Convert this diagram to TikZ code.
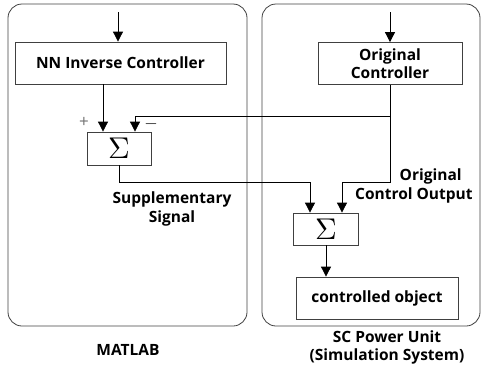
\documentclass[tikz,border=0pt]{standalone}
\usepackage{fontspec}
\setmainfont{Open Sans}
\usetikzlibrary{arrows.meta,positioning}

\newcommand{\bigsum}{\scalebox{3}{$\Sigma$}}

\begin{document}
\begin{tikzpicture}[
  x=1pt, y=-1pt, line width=0.8pt,
  panel/.style={draw=black!75, rounded corners=14pt},
  box/.style={draw=black!75, align=center, inner sep=0pt, font=\bfseries\fontsize{15.5}{18}\selectfont},
  sumbox/.style={draw=black!75, inner sep=0pt},
  lbl/.style={align=center, font=\bfseries\fontsize{15.5}{19}\selectfont},
  sgn/.style={font=\fontsize{17}{17}\selectfont},
  arr/.style={-{Triangle[length=10pt,width=10pt]}}
]
\useasboundingbox (0,0) rectangle (481,370);
% the two panels
\draw[panel] (8,4) rectangle (247,326);
\draw[panel] (262,4) rectangle (480,326);

\node[box, minimum width=211pt, minimum height=42pt] (nnc) at (120.5,63) {NN Inverse Controller};
\node[sumbox, minimum width=64pt, minimum height=33pt] (suml) at (119,148.5) {\bigsum};
\node[box, minimum width=144pt, minimum height=42pt] (orig) at (390,63.5) {Original\\Controller};
\node[sumbox, minimum width=65pt, minimum height=32pt] (sumr) at (326,229) {\bigsum};
\node[box, minimum width=162pt, minimum height=42pt] (obj) at (377,298) {controlled object};

\node[sgn, text=black!55] (plus) at (84,122) {+};
\node[sgn] (minus) at (151,124) {$-$};
\node[lbl] (supp) at (172,209) {Supplementary\\Signal};
\node[lbl, align=right, anchor=east, inner sep=0pt] (cout) at (473,186) {Original\hspace*{11pt}\\Control Output};
\node[lbl] (matlab) at (128,350) {MATLAB};
\node[lbl, font=\bfseries\fontsize{15.5}{18}\selectfont] (scpu) at (387,347) {SC Power Unit\\(Simulation System)};

\coordinate (inl) at (118,12);
\coordinate (inr) at (390,12);
\coordinate (split) at (390,116);
\coordinate (join) at (390,182);
\coordinate (supl) at (310,182);

\draw[arr] (inl) -- (inl |- nnc.north);
\draw[arr] (inr) -- (inr |- orig.north);
\draw[arr] ([xshift=-16pt]suml.north |- nnc.south) -- ([xshift=-16pt]suml.north);
\draw[arr] (split) -| ([xshift=16pt]suml.north);
\draw[arr] (orig.south) -- (join) -| ([xshift=16pt]sumr.north);
\draw[arr] (suml.south) |- (supl) -- ([xshift=-16pt]sumr.north);
\draw[arr] (sumr.south) -- (sumr.south |- obj.north);
\end{tikzpicture}
\end{document}
